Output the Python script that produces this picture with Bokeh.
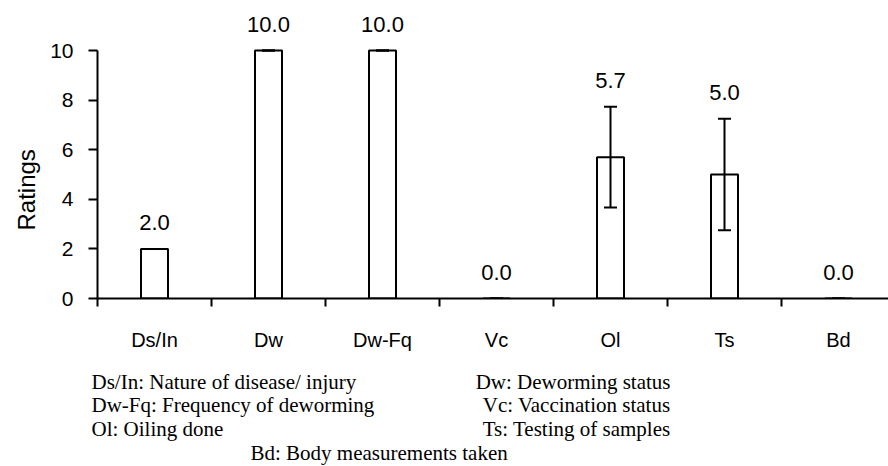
from bokeh.plotting import figure
from bokeh.models import (FixedTicker, ColumnDataSource, Whisker, LabelSet,
                          TeeHead, Range1d, Title)
from bokeh.layouts import column
from bokeh.core.properties import value
from bokeh.embed import file_html
from bokeh.resources import INLINE

# ---- data ----
categories = ["Ds/In", "Dw", "Dw-Fq", "Vc", "Ol", "Ts", "Bd"]
ratings = [2.0, 10.0, 10.0, 0.0, 5.7, 5.0, 0.0]
errors = [0.0, 0.0, 0.0, 0.0, 2.03, 2.25, 0.0]
y_ticks = [0, 2, 4, 6, 8, 10]
legend_left = ["Ds/In: Nature of disease/ injury",
               "Dw-Fq: Frequency of deworming",
               "Ol: Oiling done"]
legend_right = ["Dw: Deworming status",
                "Vc: Vaccination status",
                "Ts: Testing of samples"]
legend_bottom = "Bd: Body measurements taken"

xs = list(range(1, len(categories) + 1))
upper = [v + e for v, e in zip(ratings, errors)]
lower = [v - e for v, e in zip(ratings, errors)]
src = ColumnDataSource(dict(x=xs, top=ratings, upper=upper, lower=lower,
                            label=[f"{v:.1f}" for v in ratings]))

W = 888
H_TOP, H_KEY = 360, 106
LEFT, BOTTOM = 97, 62
frame_w = W - LEFT
frame_h = H_TOP - BOTTOM
px_per_cat = 114.0
px_per_unit = 24.8
LW = 2

p = figure(width=W, height=H_TOP, output_backend="svg", toolbar_location=None,
           x_range=Range1d(0.5, 0.5 + frame_w / px_per_cat),
           y_range=Range1d(0, frame_h / px_per_unit),
           min_border_left=LEFT, min_border_right=0, min_border_top=0,
           min_border_bottom=BOTTOM)
p.frame_align = False
p.outline_line_color = None
p.grid.visible = False
p.background_fill_color = "white"
p.border_fill_color = "white"

p.vbar(x="x", top="top", bottom=0, width=0.237, source=src,
       fill_color="white", line_color="black", line_width=LW)

wh = Whisker(source=src, base="x", upper="upper", lower="lower",
             line_color="black", line_width=LW, level="overlay",
             upper_head=TeeHead(size=13, line_color="black", line_width=LW),
             lower_head=TeeHead(size=13, line_color="black", line_width=LW))
p.add_layout(wh)

labels = LabelSet(x="x", y="upper", text="label", source=src, y_offset=26,
                  text_align="center", text_baseline="middle",
                  text_font=value("Liberation Sans"), text_font_size=value("22px"),
                  text_color="black")
p.add_layout(labels)

# y axis
ya = p.yaxis[0]
ya.ticker = FixedTicker(ticks=y_ticks)
ya.bounds = (0, 10)
ya.major_tick_out = 9
ya.major_tick_in = 0
ya.minor_tick_out = 0
ya.major_label_standoff = 15
ya.major_label_text_font = "Liberation Sans"
ya.major_label_text_font_size = "21px"
ya.major_label_text_color = "black"
ya.axis_line_width = LW
ya.major_tick_line_width = LW
ya.axis_line_color = "black"
ya.major_tick_line_color = "black"

# y-axis title, placed along the 0-10 span rather than the whole frame
p.add_layout(Title(text="Ratings", align="left", offset=68, standoff=16,
                   text_font="Liberation Sans", text_font_size="24px",
                   text_font_style="normal", text_color="black"), "left")

# x axis
xa = p.xaxis[0]
xa.ticker = FixedTicker(ticks=xs, minor_ticks=[x - 0.5 for x in xs])
xa.major_label_overrides = {x: c for x, c in zip(xs, categories)}
xa.major_tick_out = 0
xa.major_tick_in = 0
xa.minor_tick_out = 8
xa.minor_tick_in = 0
xa.minor_tick_line_width = LW
xa.minor_tick_line_color = "black"
xa.axis_line_width = LW
xa.axis_line_color = "black"
xa.major_label_standoff = 22
xa.major_label_text_font = "Liberation Sans"
xa.major_label_text_font_size = "20px"
xa.major_label_text_color = "black"

# ---- key below the chart: coordinates in page pixels ----
k = figure(width=W, height=H_KEY, output_backend="svg", toolbar_location=None,
           x_axis_type=None, y_axis_type=None,
           x_range=Range1d(0, W), y_range=Range1d(H_TOP + H_KEY, H_TOP),
           min_border=0)
k.frame_align = False
k.grid.visible = False
k.outline_line_color = None
k.background_fill_color = "white"
k.border_fill_color = "white"

rows_y = [381, 404.5, 428]
key_font = dict(text_font=value("Liberation Serif"), text_font_size=value("21px"),
                text_baseline="middle", text_color="black")
k.text(x=[91] * len(legend_left), y=rows_y, text=legend_left,
       text_align="left", **key_font)
k.text(x=[670] * len(legend_right), y=rows_y, text=legend_right,
       text_align="right", **key_font)
k.text(x=[250], y=[452], text=[legend_bottom], text_align="left", **key_font)

layout = column(p, k, spacing=0)
open("out.html", "w").write(file_html(layout, INLINE))
